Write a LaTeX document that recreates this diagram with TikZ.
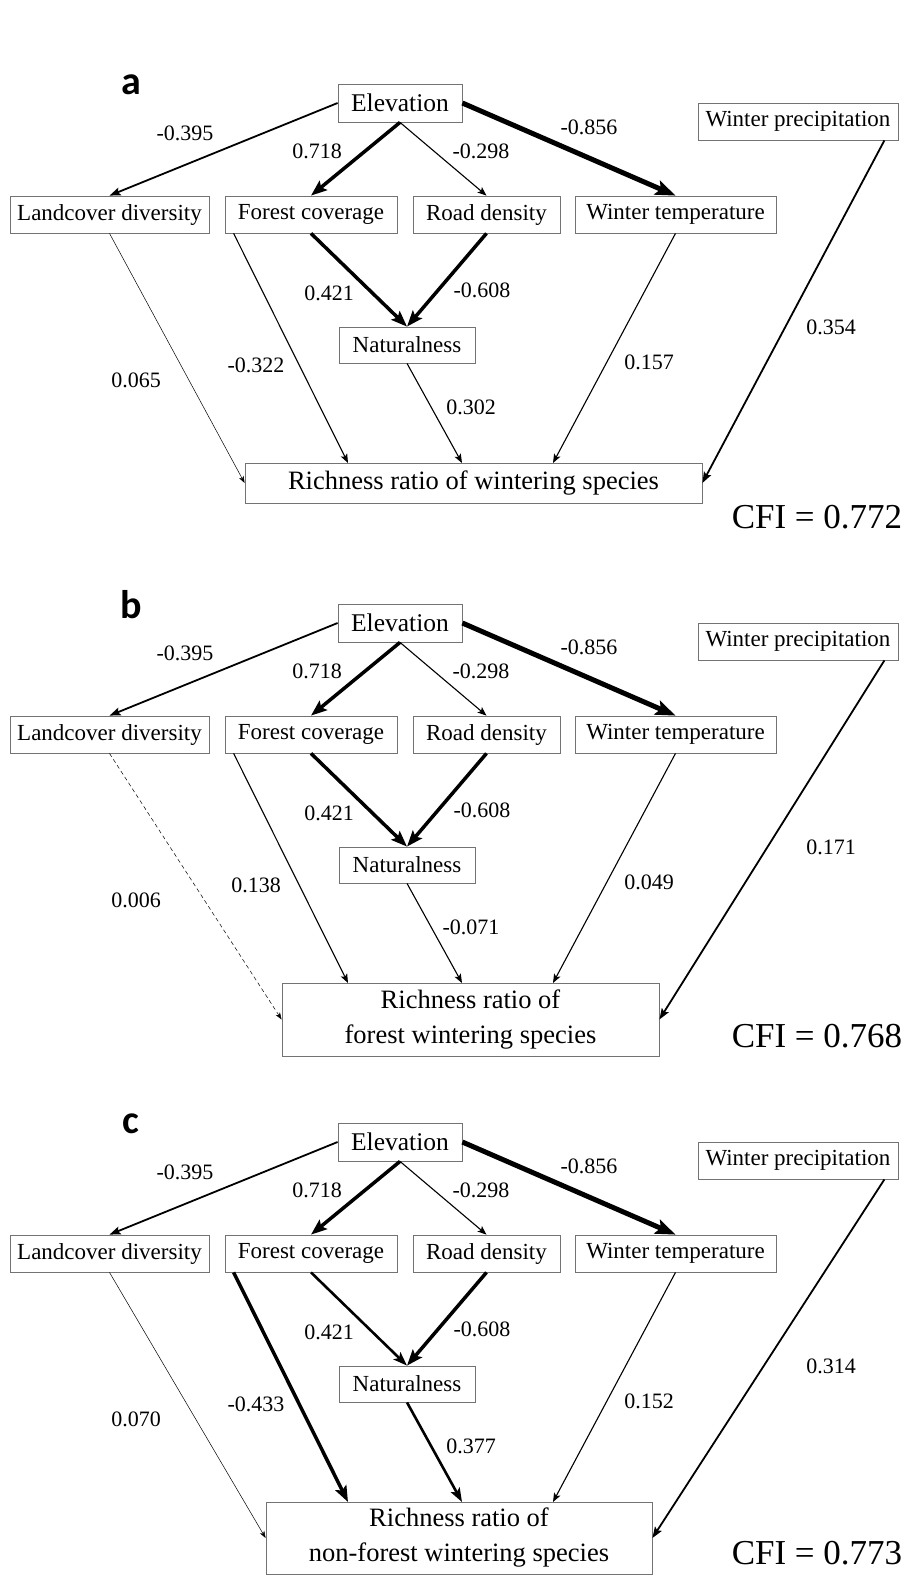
\documentclass[tikz,border=0pt]{standalone}
\usepackage{fontspec}
\setmainfont{Liberation Serif}
\newfontfamily\letterfont{Carlito}
\usepackage{tikz}
\usetikzlibrary{arrows.meta}
\tikzstyle{box} = [rectangle, draw=black!55, line width=0.8pt, inner sep=0pt, minimum height=37pt, text centered, font=\fontsize{23}{27}\selectfont]
\tikzstyle{rich} = [box, align=center, font=\fontsize{26.5}{35}\selectfont]
\tikzstyle{val} = [font=\fontsize{22}{26}\selectfont]
\tikzstyle{cfi} = [font=\fontsize{35}{40}\selectfont]
\tikzstyle{letter} = [font=\letterfont\bfseries\fontsize{40}{40}\selectfont]
\tikzstyle{lightarrow} = [line width=0.5pt, -{Stealth[length=7pt,width=5pt,inset=2pt]}]
\tikzstyle{arrow} = [line width=1.1pt, -{Stealth[length=9pt,width=7pt,inset=2pt]}]
\tikzstyle{midarrow} = [line width=1.8pt, -{Stealth[length=11pt,width=8pt,inset=2pt]}]
\tikzstyle{heavyarrow} = [line width=2.6pt, -{Stealth[length=14pt,width=10pt,inset=3pt]}]
\tikzstyle{boldarrow} = [line width=3.5pt, -{Stealth[length=16pt,width=12pt,inset=3pt]}]
\tikzstyle{maxarrow} = [line width=5pt, -{Stealth[length=20pt,width=15pt,inset=4pt]}]

\begin{document}
\begin{tikzpicture}[x=1pt, y=-1pt]
\useasboundingbox (0,0) rectangle (906,1575);

% parts shared by the three models
\foreach \p/\oy in {a/0, b/520, c/1039} {
  \node[letter] (\p-letter) at (131,85+\oy) {\p};
  \node[box, minimum width=124pt, minimum height=38pt, font=\fontsize{25.5}{30}\selectfont] (\p-elev) at (400,103+\oy) {Elevation};
  \node[box, minimum width=200pt] (\p-precip) at (798,121.5+\oy) {Winter precipitation};
  \node[box, minimum width=199pt] (\p-land) at (109.5,214.5+\oy) {Landcover diversity};
  \node[box, minimum width=172pt] (\p-forest) at (311,214.5+\oy) {Forest coverage};
  \node[box, minimum width=147pt] (\p-road) at (486.5,214.5+\oy) {Road density};
  \node[box, minimum width=201pt] (\p-temp) at (675.5,214.5+\oy) {Winter temperature};
  \node[box, minimum width=136pt, minimum height=36pt] (\p-nat) at (407,345+\oy) {Naturalness};
  \coordinate (\p-in1) at (348,463+\oy);
  \coordinate (\p-in2) at (462,463+\oy);
  \coordinate (\p-in3) at (553,463+\oy);

  \draw[midarrow] (\p-elev.west) -- (\p-land.north);
  \draw[boldarrow] (\p-elev.south) -- (\p-forest.north);
  \draw[arrow] (\p-elev.south) -- (\p-road.north);
  \draw[maxarrow] (\p-elev.east) -- (\p-temp.north);
  \draw[boldarrow] (\p-road.south) -- (\p-nat.north);

  \node[val] (\p-v1) at (185,133+\oy) {-0.395};
  \node[val] (\p-v2) at (317,151+\oy) {0.718};
  \node[val] (\p-v3) at (481,151+\oy) {-0.298};
  \node[val] (\p-v4) at (589,127+\oy) {-0.856};
  \node[val] (\p-v5) at (329,293+\oy) {0.421};
  \node[val] (\p-v6) at (482,290+\oy) {-0.608};
}

% a
\node[rich, minimum width=457pt, minimum height=40pt] (a-rich) at (473.5,483) {Richness ratio of wintering species};
\draw[boldarrow] (a-forest.south) -- (a-nat.north);
\draw[lightarrow] (a-land.south) -- (a-rich.west);
\draw[arrow] ([xshift=9pt]a-forest.south west) -- (a-in1);
\draw[arrow] (a-nat.south) -- (a-in2);
\draw[arrow] (a-temp.south) -- (a-in3);
\draw[midarrow] ([xshift=-14pt]a-precip.south east) -- (a-rich.east);
\node[val] (a-v7) at (136,380) {0.065};
\node[val] (a-v8) at (256,365) {-0.322};
\node[val] (a-v9) at (471,407) {0.302};
\node[val] (a-v10) at (649,362) {0.157};
\node[val] (a-v11) at (831,327) {0.354};
\node[cfi] (a-cfi) at (817,517) {CFI = 0.772};

% b
\node[rich, minimum width=377pt, minimum height=73pt] (b-rich) at (470.5,1019.5) {Richness ratio of\\forest wintering species};
\draw[boldarrow] (b-forest.south) -- (b-nat.north);
\draw[lightarrow, dash pattern=on 4pt off 3pt] (b-land.south) -- (b-rich.west);
\draw[arrow] ([xshift=9pt]b-forest.south west) -- (b-in1);
\draw[arrow] (b-nat.south) -- (b-in2);
\draw[arrow] (b-temp.south) -- (b-in3);
\draw[midarrow] ([xshift=-14pt]b-precip.south east) -- (b-rich.east);
\node[val] (b-v7) at (136,900) {0.006};
\node[val] (b-v8) at (256,885) {0.138};
\node[val] (b-v9) at (471,927) {-0.071};
\node[val] (b-v10) at (649,882) {0.049};
\node[val] (b-v11) at (831,847) {0.171};
\node[cfi] (b-cfi) at (817,1036) {CFI = 0.768};

% c
\node[rich, minimum width=386pt, minimum height=72pt] (c-rich) at (459,1538) {Richness ratio of\\non-forest wintering species};
\draw[heavyarrow] (c-forest.south) -- (c-nat.north);
\draw[lightarrow] (c-land.south) -- (c-rich.west);
\draw[boldarrow] ([xshift=9pt]c-forest.south west) -- (c-in1);
\draw[heavyarrow] (c-nat.south) -- (c-in2);
\draw[arrow] (c-temp.south) -- (c-in3);
\draw[midarrow] ([xshift=-14pt]c-precip.south east) -- (c-rich.east);
\node[val] (c-v7) at (136,1419) {0.070};
\node[val] (c-v8) at (256,1404) {-0.433};
\node[val] (c-v9) at (471,1446) {0.377};
\node[val] (c-v10) at (649,1401) {0.152};
\node[val] (c-v11) at (831,1366) {0.314};
\node[cfi] (c-cfi) at (817,1553) {CFI = 0.773};

\end{tikzpicture}
\end{document}
